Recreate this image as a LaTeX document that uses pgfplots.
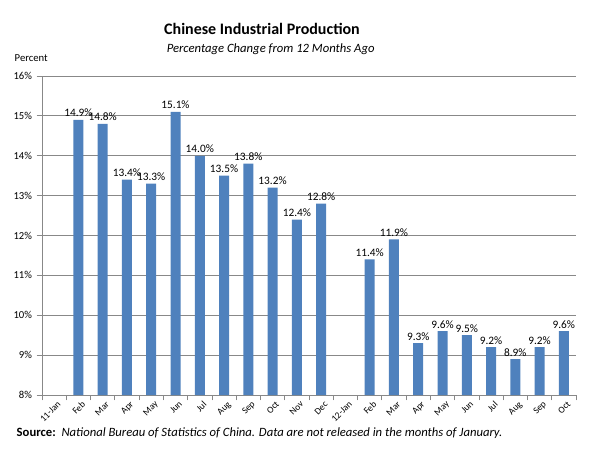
\documentclass[border=0pt]{standalone}
\usepackage{pgfplots}
\pgfplotsset{compat=1.18}
\usepackage{fontspec}
\setmainfont{Carlito}
\definecolor{barblue}{HTML}{4F81BD}
\definecolor{gridgray}{HTML}{888888}
\begin{document}
\begin{tikzpicture}
\useasboundingbox (0,0) rectangle (450pt,337.5pt);
\node[font=\bfseries\fontsize{12}{14}\selectfont] at (196.5pt,316pt) {Chinese Industrial Production};
\node[font=\itshape\fontsize{9.5}{11}\selectfont] at (203pt,300.5pt) {Percentage Change from 12 Months Ago};
\node[font=\fontsize{8}{10}\selectfont,anchor=west] at (7.5pt,294pt) {Percent};
\node[anchor=west,font=\fontsize{9.5}{11}\selectfont] at (9pt,12.75pt) {\textbf{Source:}\ \ \textit{National Bureau of Statistics of China. Data are not released in the months of January.}};
\begin{axis}[
  at={(31.5pt,41.25pt)}, anchor=south west,
  scale only axis, width=400.5pt, height=239.25pt,
  xmin=-0.5, xmax=21.5, ymin=8, ymax=16,
  ytick={8,...,16},
  yticklabel={\pgfmathprintnumber{\tick}\%},
  /pgf/number format/assume math mode=true,
  ymajorgrids, grid style={gridgray, line width=0.6pt},
  axis x line*=bottom, axis y line*=left,
  axis line style={gridgray, line width=0.6pt},
  xtick={0,...,21},
  xticklabels={11-Jan,Feb,Mar,Apr,May,Jun,Jul,Aug,Sep,Oct,Nov,Dec,12-Jan,Feb,Mar,Apr,May,Jun,Jul,Aug,Sep,Oct},
  x tick label style={rotate=45, anchor=north east, font=\fontsize{7}{8}\selectfont, inner sep=0.5pt, xshift=2pt, yshift=-1pt},
  y tick label style={font=\fontsize{8}{10}\selectfont},
  major x tick style={draw=none},
  minor xtick={-0.5,0.5,...,21.5},
  minor x tick style={gridgray, line width=0.6pt},
  tick style={gridgray, line width=0.6pt},
  tick align=outside,
  major tick length=4pt, minor tick length=4pt,
  ybar, bar width=7.5pt,
  nodes near coords={\pgfmathprintnumber[fixed,fixed zerofill,precision=1]{\pgfplotspointmeta}\%},
  every node near coord/.append style={font=\fontsize{8.5}{10}\selectfont, text=black, inner sep=2pt},
  clip=false,
]
\addplot[fill=barblue, draw=none] coordinates {
(1,14.9) (2,14.8) (3,13.4) (4,13.3) (5,15.1) (6,14.0) (7,13.5) (8,13.8) (9,13.2) (10,12.4) (11,12.8)
(13,11.4) (14,11.9) (15,9.3) (16,9.6) (17,9.5) (18,9.2) (19,8.9) (20,9.2) (21,9.6)};
\end{axis}
\end{tikzpicture}
\end{document}
